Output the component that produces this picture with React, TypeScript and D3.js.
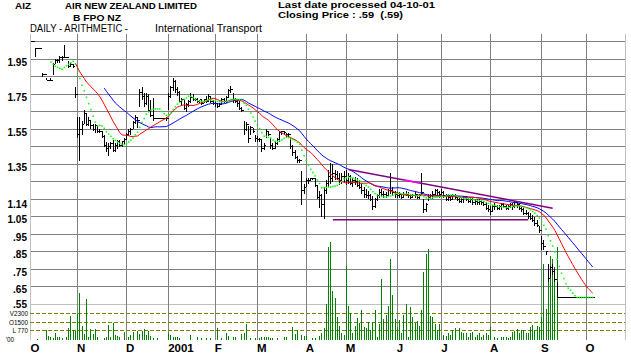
import * as d3 from 'd3';

// first trading session of each month, as an index into the daily arrays
const monthStarts = [0, 21, 43, 62, 83, 102, 124, 142, 165, 185, 207, 230, 250];
const monthLabels = ['O', 'N', 'D', '2001', 'F', 'M', 'A', 'M', 'J', 'J', 'A', 'S', 'O'];

const priceGrid = [2.05, 1.95, 1.85, 1.75, 1.65, 1.55, 1.45, 1.35, 1.25, 1.15, 1.05, 0.95, 0.85, 0.75, 0.65, 0.55];
const priceTicks = [1.95, 1.75, 1.55, 1.35, 1.14, 1.05, 0.95, 0.85, 0.75, 0.65, 0.55];
const priceTickLabels = ['1.95', '1.75', '1.55', '1.35', '1.14', '1.05', '.95', '.85', '.75', '.65', '.55'];

const volTicks = [2300, 1500, 770];
const volTickLabels = ['V2300', 'O1500', 'L 770'];

// daily bars, Oct 2 2000 .. Oct 4 2001 (NZX sessions)
const highs = [
  // Oct
  2.05, 2.05, 2.01, 2.01, 2.01, 1.87, 1.86, 1.84, 1.83, 1.84, 1.93, 1.95, 1.95, 1.97, 1.97, 2.03, 1.96, 1.94, 1.93, 1.92, 1.79,
  // Nov
  1.62, 1.62, 1.60, 1.66, 1.64, 1.62, 1.60, 1.58, 1.58, 1.57, 1.55, 1.54, 1.52, 1.48, 1.47, 1.48, 1.49, 1.47, 1.49, 1.49, 1.48, 1.50,
  // Dec
  1.53, 1.55, 1.56, 1.60, 1.63, 1.62, 1.78, 1.79, 1.76, 1.76, 1.75, 1.72, 1.73, 1.61, 1.61, 1.61, 1.61, 1.61, 1.62,
  // Jan
  1.76, 1.80, 1.84, 1.83, 1.79, 1.77, 1.73, 1.72, 1.70, 1.72, 1.76, 1.75, 1.73, 1.73, 1.72, 1.72, 1.72, 1.74, 1.75, 1.74, 1.72,
  // Feb
  1.71, 1.70, 1.70, 1.73, 1.73, 1.74, 1.78, 1.80, 1.76, 1.73, 1.72, 1.71, 1.68, 1.60, 1.59, 1.57, 1.57, 1.56, 1.52,
  // Mar
  1.51, 1.50, 1.49, 1.47, 1.55, 1.54, 1.50, 1.47, 1.48, 1.50, 1.54, 1.54, 1.54, 1.53, 1.53, 1.50, 1.46, 1.43, 1.40, 1.38, 1.31, 1.24,
  // Apr
  1.27, 1.27, 1.27, 1.27, 1.27, 1.23, 1.20, 1.18, 1.22, 1.26, 1.32, 1.36, 1.35, 1.32, 1.31, 1.30, 1.30, 1.31,
  // May
  1.32, 1.30, 1.29, 1.27, 1.28, 1.27, 1.26, 1.24, 1.22, 1.21, 1.20, 1.18, 1.17, 1.16, 1.18, 1.21, 1.21, 1.20, 1.19, 1.21, 1.30, 1.22, 1.20,
  // Jun
  1.19, 1.19, 1.18, 1.19, 1.20, 1.19, 1.18, 1.18, 1.19, 1.18, 1.18, 1.30, 1.15, 1.13, 1.18, 1.18, 1.20, 1.21, 1.21, 1.20,
  // Jul
  1.21, 1.20, 1.18, 1.18, 1.17, 1.18, 1.18, 1.17, 1.17, 1.16, 1.17, 1.17, 1.16, 1.16, 1.16, 1.15, 1.15, 1.15, 1.14, 1.14, 1.13, 1.12,
  // Aug
  1.11, 1.12, 1.13, 1.12, 1.12, 1.13, 1.13, 1.12, 1.12, 1.13, 1.13, 1.14, 1.14, 1.13, 1.11, 1.10, 1.09, 1.08, 1.07, 1.06, 1.05, 1.03, 1.00,
  // Sep
  0.94, 0.92, 0.85, 0.78, 0.77, 0.78, 0.75, 0.68, 0.59, 0.59, 0.59, 0.59, 0.59, 0.59, 0.59, 0.59, 0.59, 0.59, 0.59, 0.59,
  // Oct
  0.59, 0.59, 0.59, 0.59,
];

const lows = [
  2.05, 2.05, 1.96, 2.01, 2.01, 1.85, 1.86, 1.83, 1.83, 1.83, 1.86, 1.92, 1.93, 1.93, 1.94, 1.96, 1.96, 1.90, 1.91, 1.90, 1.73,
  1.50, 1.37, 1.52, 1.58, 1.57, 1.57, 1.55, 1.54, 1.53, 1.53, 1.53, 1.50, 1.45, 1.42, 1.40, 1.44, 1.42, 1.42, 1.44, 1.45, 1.45, 1.46,
  1.49, 1.51, 1.52, 1.55, 1.58, 1.56, 1.68, 1.72, 1.68, 1.69, 1.65, 1.62, 1.60, 1.61, 1.61, 1.61, 1.61, 1.61, 1.60,
  1.66, 1.73, 1.77, 1.76, 1.74, 1.70, 1.69, 1.66, 1.65, 1.68, 1.70, 1.71, 1.71, 1.70, 1.70, 1.69, 1.70, 1.70, 1.71, 1.70, 1.69,
  1.68, 1.67, 1.68, 1.69, 1.70, 1.70, 1.73, 1.76, 1.70, 1.70, 1.68, 1.66, 1.65, 1.52, 1.54, 1.47, 1.52, 1.53, 1.48,
  1.48, 1.48, 1.42, 1.43, 1.50, 1.51, 1.44, 1.43, 1.44, 1.46, 1.48, 1.52, 1.52, 1.50, 1.50, 1.44, 1.40, 1.38, 1.36, 1.36, 1.12, 1.18,
  1.22, 1.24, 1.26, 1.26, 1.22, 1.15, 1.10, 1.05, 1.04, 1.18, 1.22, 1.24, 1.25, 1.26, 1.26, 1.23, 1.24, 1.25,
  1.23, 1.24, 1.23, 1.22, 1.23, 1.22, 1.21, 1.18, 1.16, 1.16, 1.15, 1.14, 1.09, 1.10, 1.14, 1.16, 1.17, 1.16, 1.16, 1.17, 1.18, 1.17, 1.16,
  1.16, 1.16, 1.15, 1.16, 1.17, 1.16, 1.15, 1.16, 1.16, 1.15, 1.15, 1.17, 1.07, 1.08, 1.14, 1.15, 1.15, 1.17, 1.17, 1.16,
  1.17, 1.16, 1.14, 1.14, 1.14, 1.15, 1.15, 1.14, 1.13, 1.13, 1.13, 1.14, 1.13, 1.13, 1.12, 1.12, 1.12, 1.12, 1.12, 1.11, 1.09, 1.08,
  1.06, 1.08, 1.09, 1.09, 1.09, 1.09, 1.10, 1.09, 1.09, 1.10, 1.09, 1.10, 1.10, 1.09, 1.08, 1.06, 1.06, 1.04, 1.03, 1.02, 1.00, 0.99, 0.96,
  0.86, 0.86, 0.83, 0.68, 0.70, 0.72, 0.68, 0.59, 0.59, 0.59, 0.59, 0.59, 0.59, 0.59, 0.59, 0.59, 0.59, 0.59, 0.59, 0.59,
  0.59, 0.59, 0.59, 0.59,
];

const closes = [
  2.05, 2.05, 2.01, 2.01, 2.01, 1.86, 1.86, 1.83, 1.83, 1.83, 1.92, 1.94, 1.94, 1.96, 1.96, 1.96, 1.96, 1.91, 1.92, 1.91, 1.75,
  1.52, 1.55, 1.58, 1.64, 1.58, 1.60, 1.57, 1.55, 1.57, 1.54, 1.54, 1.51, 1.46, 1.44, 1.45, 1.47, 1.43, 1.46, 1.48, 1.46, 1.48, 1.49,
  1.52, 1.54, 1.55, 1.59, 1.62, 1.60, 1.76, 1.74, 1.70, 1.74, 1.66, 1.63, 1.61, 1.61, 1.61, 1.61, 1.61, 1.61, 1.61,
  1.74, 1.79, 1.82, 1.78, 1.76, 1.71, 1.72, 1.67, 1.69, 1.71, 1.73, 1.72, 1.72, 1.71, 1.72, 1.70, 1.72, 1.71, 1.74, 1.71, 1.70,
  1.70, 1.68, 1.69, 1.72, 1.71, 1.73, 1.77, 1.78, 1.72, 1.71, 1.70, 1.67, 1.66, 1.55, 1.58, 1.50, 1.56, 1.54, 1.50,
  1.49, 1.49, 1.44, 1.46, 1.54, 1.52, 1.46, 1.44, 1.47, 1.49, 1.53, 1.54, 1.53, 1.52, 1.52, 1.45, 1.42, 1.39, 1.37, 1.37, 1.20, 1.22,
  1.26, 1.26, 1.27, 1.27, 1.23, 1.16, 1.17, 1.12, 1.20, 1.24, 1.28, 1.27, 1.30, 1.29, 1.27, 1.26, 1.28, 1.28,
  1.26, 1.28, 1.24, 1.26, 1.25, 1.23, 1.22, 1.20, 1.18, 1.17, 1.17, 1.15, 1.11, 1.15, 1.17, 1.19, 1.18, 1.18, 1.17, 1.20, 1.20, 1.19, 1.18,
  1.17, 1.18, 1.16, 1.18, 1.18, 1.17, 1.16, 1.17, 1.18, 1.16, 1.17, 1.19, 1.09, 1.12, 1.16, 1.17, 1.18, 1.20, 1.19, 1.18,
  1.19, 1.17, 1.15, 1.16, 1.15, 1.17, 1.16, 1.15, 1.14, 1.15, 1.16, 1.15, 1.14, 1.15, 1.13, 1.14, 1.13, 1.14, 1.13, 1.12, 1.10, 1.09,
  1.08, 1.11, 1.11, 1.10, 1.11, 1.12, 1.11, 1.10, 1.11, 1.12, 1.11, 1.13, 1.12, 1.10, 1.09, 1.07, 1.07, 1.05, 1.04, 1.03, 1.01, 1.00, 0.97,
  0.90, 0.88, 0.85, 0.70, 0.76, 0.74, 0.69, 0.59, 0.59, 0.59, 0.59, 0.59, 0.59, 0.59, 0.59, 0.59, 0.59, 0.59, 0.59, 0.59,
  0.59, 0.59, 0.59, 0.59,
];

// volume in hundreds of shares
const volumes = [
  0, 0, 0, 70, 0, 0, 0, 815, 330, 200, 120, 550, 200, 250, 170, 0, 250, 990, 2020, 815, 750,
  2250, 4050, 1180, 450, 3480, 250, 900, 500, 900, 250, 0, 0, 130, 200, 1240, 250, 1440, 350, 330, 200, 0, 670,
  0, 200, 350, 620, 0, 770, 500, 720, 950, 350, 720, 290, 170, 0, 140, 0, 0, 0, 0,
  570, 380, 230, 200, 230, 140, 0, 0, 0, 0, 380, 0, 0, 200, 0, 140, 0, 100, 0, 100, 0,
  0, 960, 0, 150, 0, 530, 330, 0, 190, 190, 0, 0, 470, 580, 1330, 0, 150, 0, 150,
  0, 100, 190, 240, 240, 190, 150, 100, 0, 100, 0, 0, 240, 190, 0, 0, 1050, 470, 815, 0, 390, 300,
  330, 0, 0, 100, 100, 0, 300, 530, 960, 3100, 8030, 8480, 4250, 3620, 1960, 1160, 580, 390,
  6400, 2880, 2300, 530, 1160, 1900, 1390, 2590, 1100, 960, 1530, 815, 1530, 2590, 240, 1330, 5250, 1820, 2100, 2880, 6970, 3900, 1820,
  1100, 1670, 530, 2100, 3100, 240, 2820, 1960, 1390, 1610, 1160, 2590, 5820, 7450, 7830, 2020, 1960, 1330, 815, 1330,
  0, 390, 300, 530, 390, 815, 960, 0, 960, 670, 580, 580, 240, 530, 670, 240, 390, 530, 240, 390, 530, 390,
  1050, 0, 190, 150, 0, 190, 190, 240, 150, 240, 670, 760, 870, 580, 815, 815, 530, 530, 1050, 1240, 815, 1160, 1050,
  1960, 6540, 2670, 5820, 7250, 6970, 6250, 8030, 0, 0, 0, 0, 0, 0, 0, 0, 0, 0, 0, 0,
  0, 0, 0, 0,
];

// trend lines: [session index, price]
const upperTrend = [[143, 1.32], [235, 1.10]];
const upperHighlight = [168, 175];
const lowerTrend = [[136, 1.034], [224, 1.034]];

const sma = (vals: number[], p: number) =>
  vals.map((_, i) => (i < p - 1 ? null : d3.mean(vals.slice(i - p + 1, i + 1)) as number));

const FONT = '"Liberation Sans", Arial, sans-serif';

export default function App() {
  const width = 631;
  const height = 353;
  const n = closes.length;
  const step = 2.22;

  const x = d3.scaleLinear().domain([0, n - 1]).range([31, 31 + (n - 1) * step]);
  const y = d3.scaleLinear().domain([0.55, 2.05]).range([304.5, 41.7]);
  const yv = d3.scaleLinear().domain([0, 2300]).range([339.5, 313]);

  const ma10 = sma(closes, 10);
  const ma21 = sma(closes, 21);
  const ma34 = sma(closes, 34);

  const line = d3.line<number | null>()
    .defined(d => d != null)
    .x((_, i) => x(i))
    .y(d => y(d as number));

  const trendAt = (t: number[][], i: number) => {
    const [[i0, p0], [i1, p1]] = t;
    return p0 + (p1 - p0) * (i - i0) / (i1 - i0);
  };

  const left = 30;
  const right = 625;

  return (
    <svg width={width} height={height} style={{ position: 'absolute', left: 0, top: 0, background: '#fff' }}
      fontFamily={FONT}>
      {/* header */}
      <g fontWeight="bold" fontSize={9.5} fill="#000">
        <text x={15} y={8.5} textLength={16} lengthAdjust="spacingAndGlyphs">AIZ</text>
        <text x={65} y={8.5} textLength={132} lengthAdjust="spacingAndGlyphs">AIR NEW ZEALAND LIMITED</text>
        <text x={73} y={20.8} textLength={48} lengthAdjust="spacingAndGlyphs">B FPO NZ</text>
        <text x={278} y={8.3} textLength={157} lengthAdjust="spacingAndGlyphs">Last date processed 04-10-01</text>
        <text x={278} y={17.8} textLength={125} lengthAdjust="spacingAndGlyphs" style={{ whiteSpace: 'pre' }}>Closing Price : .59  (.59)</text>
      </g>
      <g fontSize={10} fill="#000">
        <text x={30} y={32} textLength={98} lengthAdjust="spacingAndGlyphs">DAILY - ARITHMETIC -</text>
        <text x={155} y={32} textLength={107} lengthAdjust="spacingAndGlyphs">International Transport</text>
      </g>

      {/* grid */}
      <g shapeRendering="crispEdges">
        {priceGrid.map(p => (
          <line key={p} x1={left} x2={right} y1={y(p)} y2={y(p)}
            stroke={p === 0.55 ? '#c0c0c0' : '#808080'} strokeWidth={1} />
        ))}
        {monthStarts.slice(1).map(m => (
          <line key={m} x1={x(m)} x2={x(m)} y1={34} y2={340} stroke="#808080" strokeWidth={1} />
        ))}
        <line x1={left} x2={left} y1={34} y2={340} stroke="#c0c0c0" />
        <line x1={right} x2={right} y1={34} y2={340} stroke="#c0c0c0" />
        {volTicks.map(v => (
          <line key={v} x1={left} x2={right} y1={yv(v)} y2={yv(v)} stroke="#808000"
            strokeWidth={1} strokeDasharray="4,2" />
        ))}
      </g>

      {/* y labels */}
      <g fontWeight="bold" fontSize={10} textAnchor="end" fill="#000">
        {priceTicks.map((p, k) => (
          <text key={p} x={27} y={y(p) + (p === 0.55 ? 3.5 : 6.5)}>{priceTickLabels[k]}</text>
        ))}
      </g>
      <g fontSize={6.3} textAnchor="end" fill="#000">
        {volTicks.map((v, k) => (
          <text key={v} x={28} y={yv(v) + 2.8}>{volTickLabels[k]}</text>
        ))}
        <text x={14} y={342}>'00</text>
      </g>

      {/* month labels */}
      <g fontWeight="bold" fontSize={11.5} fill="#000">
        {monthStarts.map((m, k) => (
          <text key={m} x={x(m) - 0.5} y={351.5}>{monthLabels[k]}</text>
        ))}
      </g>

      {/* volume */}
      <g stroke="#008000" strokeWidth={1} shapeRendering="crispEdges">
        {volumes.map((v, i) => v > 0 ? (
          <line key={i} x1={x(i)} x2={x(i)} y1={yv(0)} y2={yv(v)} />
        ) : null)}
      </g>

      {/* price bars */}
      <g stroke="#000" strokeWidth={1} shapeRendering="crispEdges">
        {closes.map((c, i) => (
          <g key={i}>
            {highs[i] !== lows[i] && <line x1={x(i)} x2={x(i)} y1={y(highs[i])} y2={y(lows[i])} />}
            <line x1={x(i)} x2={x(i) + step} y1={y(c)} y2={y(c)} />
          </g>
        ))}
      </g>

      {/* moving averages */}
      <path d={line(ma34) || ''} fill="none" stroke="#0000ff" strokeWidth={1} />
      <path d={line(ma21) || ''} fill="none" stroke="#ff0000" strokeWidth={1} />
      <g fill="#00ff00">
        {ma10.map((v, i) => v == null ? null : (
          <rect key={i} x={x(i) - 0.75} y={y(v) - 0.75} width={1.5} height={1.5} />
        ))}
      </g>

      {/* trend lines */}
      <line x1={x(upperTrend[0][0])} y1={y(upperTrend[0][1])} x2={x(upperTrend[1][0])} y2={y(upperTrend[1][1])}
        stroke="#800080" strokeWidth={1.5} />
      <line x1={x(upperHighlight[0])} y1={y(trendAt(upperTrend, upperHighlight[0]))}
        x2={x(upperHighlight[1])} y2={y(trendAt(upperTrend, upperHighlight[1]))}
        stroke="#ff00ff" strokeWidth={1.5} />
      <line x1={x(lowerTrend[0][0])} y1={y(lowerTrend[0][1])} x2={x(lowerTrend[1][0])} y2={y(lowerTrend[1][1])}
        stroke="#800080" strokeWidth={1.5} />
    </svg>
  );
}
